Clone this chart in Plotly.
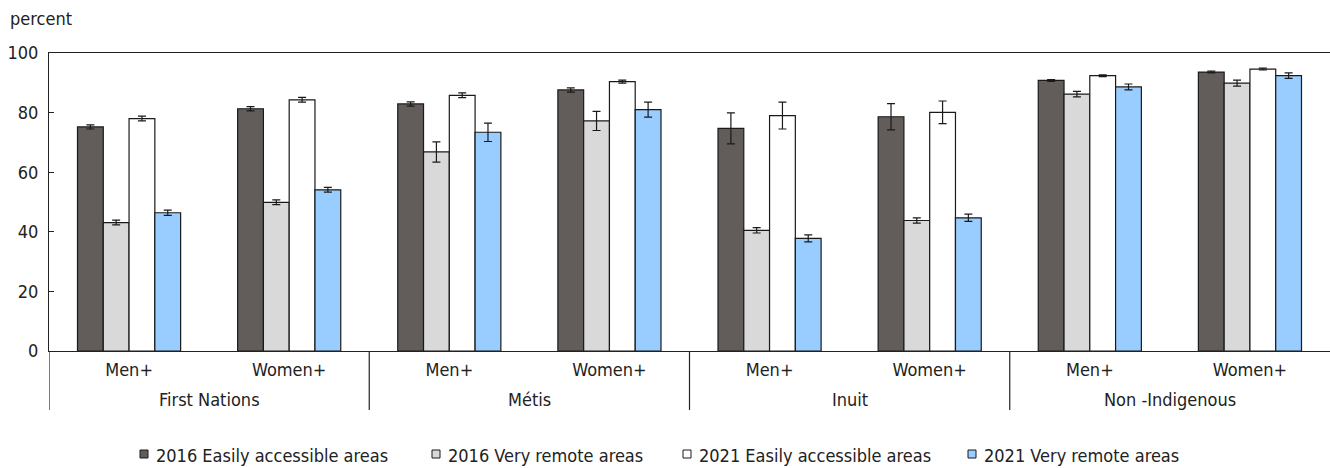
import plotly.graph_objects as go

# Population groups and gender (two-level category axis)
groups = ["First Nations", "Métis", "Inuit", "Non -Indigenous"]
genders = ["Men+", "Women+"]
categories = [f"{g} {s}" for g in groups for s in genders]
category_labels = [s for g in groups for s in genders]

# Percent values by series
easy_2016 = [75.2, 81.3, 82.9, 87.6, 74.7, 78.6, 90.8, 93.6]
remote_2016 = [43.1, 49.9, 66.8, 77.2, 40.5, 43.8, 86.2, 89.9]
easy_2021 = [78.0, 84.3, 85.8, 90.4, 79.0, 80.1, 92.4, 94.6]
remote_2021 = [46.4, 54.1, 73.4, 81.0, 37.8, 44.7, 88.6, 92.4]

# Confidence interval half-widths
easy_2016_err = [0.7, 0.7, 0.7, 0.7, 5.2, 4.4, 0.3, 0.3]
remote_2016_err = [0.8, 0.8, 3.4, 3.2, 0.9, 0.9, 0.9, 1.0]
easy_2021_err = [0.8, 0.8, 0.8, 0.5, 4.5, 3.8, 0.3, 0.3]
remote_2021_err = [0.9, 0.8, 3.1, 2.5, 1.2, 1.2, 1.0, 0.9]

series_names = ["2016 Easily accessible areas", "2016 Very remote areas",
                "2021 Easily accessible areas", "2021 Very remote areas"]
series_values = [easy_2016, remote_2016, easy_2021, remote_2021]
series_errors = [easy_2016_err, remote_2016_err, easy_2021_err, remote_2021_err]
series_colors = ["#625d5b", "#d9d9d9", "#ffffff", "#99ccff"]

FONT = "DejaVu Sans Condensed, Liberation Sans Narrow, Liberation Sans, Arial, sans-serif"
FS = 18
TEXT = "#222222"
LINE = "#222222"
W, H = 1330, 468
ML, MR, MT, MB = 49, 0, 53, 117
PW, PH = W - ML - MR, H - MT - MB


def px_x(x):
    return (x - ML) / PW


def px_y(y):
    return (H - MB - y) / PH


fig = go.Figure()
for name, vals, errs, col in zip(series_names, series_values, series_errors, series_colors):
    fig.add_trace(go.Bar(
        name=name,
        x=categories,
        y=vals,
        marker=dict(color=col, line=dict(color="#1a1a1a", width=1.2)),
        error_y=dict(type="data", array=errs, visible=True,
                     color="#1a1a1a", thickness=1.2, width=4),
        showlegend=False,
    ))

shapes = []
annotations = []

# Group labels and the dividers between population groups
n_sub = len(genders)
for i, g in enumerate(groups):
    center = i * n_sub + (n_sub - 1) / 2
    annotations.append(dict(xref="x", yref="paper", x=center, y=px_y(399),
                            xanchor="center", yanchor="middle", showarrow=False,
                            text=g, font=dict(family=FONT, size=FS, color=TEXT)))
    shapes.append(dict(type="line", xref="x", yref="paper",
                       x0=i * n_sub - 0.5, x1=i * n_sub - 0.5,
                       y0=0, y1=px_y(410), line=dict(color=LINE, width=1.2)))

# Legend drawn as small outlined squares with labels
legend_x = [140, 432, 683, 968]
legend_y = 454
for lx, name, col in zip(legend_x, series_names, series_colors):
    shapes.append(dict(type="rect", xref="paper", yref="paper",
                       x0=px_x(lx), x1=px_x(lx + 8),
                       y0=px_y(legend_y + 4), y1=px_y(legend_y - 4),
                       fillcolor=col, line=dict(color="#1a1a1a", width=1)))
    annotations.append(dict(xref="paper", yref="paper", x=px_x(lx + 14), y=px_y(legend_y + 1),
                            xanchor="left", yanchor="middle", showarrow=False,
                            text=name, font=dict(family=FONT, size=FS, color=TEXT)))

annotations.append(dict(xref="paper", yref="paper", x=px_x(8), y=px_y(18),
                        xanchor="left", yanchor="middle", showarrow=False,
                        text="percent", font=dict(family=FONT, size=FS, color=TEXT)))

fig.update_layout(
    width=W, height=H,
    margin=dict(l=ML, r=MR, t=MT, b=MB),
    plot_bgcolor="white", paper_bgcolor="white",
    barmode="group", bargap=0.356, bargroupgap=0,
    font=dict(family=FONT, size=FS, color=TEXT),
    shapes=shapes, annotations=annotations,
    xaxis=dict(
        type="category",
        range=[-0.5, len(categories) - 0.5],
        tickvals=categories, ticktext=category_labels,
        showline=True, linecolor=LINE, linewidth=1.2, mirror=True,
        ticks="", showgrid=False,
        ticklabelstandoff=2,
        tickfont=dict(family=FONT, size=FS, color=TEXT),
    ),
    yaxis=dict(
        range=[0, 100], tickvals=[0, 20, 40, 60, 80, 100],
        showline=True, linecolor=LINE, linewidth=1.2,
        ticks="inside", ticklen=5, tickcolor=LINE,
        showgrid=False, zeroline=False,
        ticklabelstandoff=6,
        tickfont=dict(family=FONT, size=FS, color=TEXT),
    ),
)

fig.write_html("out.html")
